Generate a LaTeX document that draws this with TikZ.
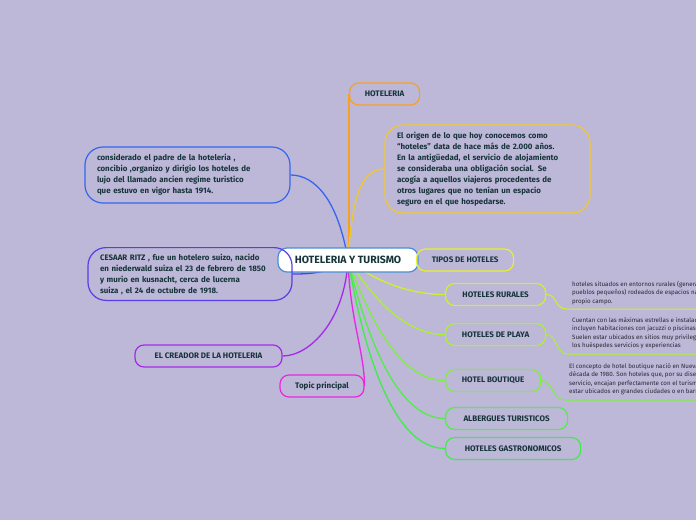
\documentclass[tikz,border=0pt]{standalone}
\usepackage{fontspec}
\setmainfont{Fira Sans}
\usepackage{xcolor}
\usepackage{tikz}
\usetikzlibrary{positioning,calc}
\definecolor{paper}{RGB}{189,183,216}
\definecolor{ink}{RGB}{22,52,58}
\definecolor{noteink}{RGB}{40,40,52}
\definecolor{hubblue}{RGB}{72,142,214}
\definecolor{orange2}{RGB}{246,160,38}
\definecolor{gold2}{RGB}{242,200,40}
\definecolor{blue2}{RGB}{52,102,240}
\definecolor{indigo2}{RGB}{86,62,232}
\definecolor{violet2}{RGB}{164,42,232}
\definecolor{magenta2}{RGB}{232,40,222}
\definecolor{yellow2}{RGB}{232,240,46}
\definecolor{lime1}{RGB}{204,242,44}
\definecolor{lime2}{RGB}{172,242,44}
\definecolor{green1}{RGB}{124,240,60}
\definecolor{green2}{RGB}{84,236,70}
\definecolor{green3}{RGB}{64,236,72}
\pgfdeclarelayer{paperlayer}
\pgfdeclarelayer{links}
\pgfsetlayers{paperlayer,links,main}
\tikzset{
  centerbox/.style={draw=hubblue, fill=white, rounded corners=9pt, line width=1.2pt,
    minimum width=140pt, minimum height=24pt, text=ink,
    font=\bfseries\fontsize{10.5}{12}\selectfont},
  topicbox/.style={draw, rounded corners=9pt, line width=1.2pt,
    minimum height=22pt, text=ink, font=\bfseries\fontsize{8}{9}\selectfont},
  parabox/.style={draw, rounded corners=18pt, line width=1.2pt, align=left,
    inner xsep=12pt, inner ysep=6pt, text=ink,
    font=\bfseries\fontsize{7.9}{11}\selectfont},
  smalltext/.style={anchor=north west, inner sep=0pt, align=left, text=noteink,
    font=\fontsize{6.2}{8.5}\selectfont},
  branch/.style={line width=1.3pt},
  leaf/.style={line width=1pt}
}

\begin{document}
\begin{tikzpicture}[x=1pt, y=-1pt]
\begin{pgfonlayer}{paperlayer}
\fill[paper] (0,0) rectangle (696,520);
\end{pgfonlayer}
\useasboundingbox (0,0) rectangle (696,520);
\clip (0,0) rectangle (696,520);
\coordinate (edge) at (696,0);

% main topic
\node[centerbox] (center) at (348,260) {HOTELERIA Y TURISMO};

% upper side
\node[topicbox, draw=orange2, minimum width=70pt, anchor=west] (hoteleria) at (349,94) {HOTELERIA};
\node[parabox, draw=gold2, text width=181pt, minimum height=88pt] (origen) at (487.5,169)
  {El origen de lo que hoy conocemos como\\
   ``hoteles'' data de hace más de 2.000 años.\\
   En la antigüedad, el servicio de alojamiento\\
   se consideraba una obligación social. Se\\
   acogía a aquellos viajeros procedentes de\\
   otros lugares que no tenían un espacio\\
   seguro en el que hospedarse.};

% left side
\node[parabox, draw=blue2, text width=181pt, minimum height=56pt] (padre) at (187.5,175)
  {considerado el padre de la hoteleria ,\\
   concibio ,organizo y dirigio los hoteles de\\
   lujo del llamado ancien regime turistico\\
   que estuvo en vigor hasta 1914.};
\node[parabox, draw=indigo2, text width=180pt, minimum height=52pt] (ritz) at (190,274)
  {CESAAR RITZ , fue un hotelero suizo, nacido\\
   en niederwald suiza el 23 de febrero de 1850\\
   y murio en kusnacht, cerca de lucerna\\
   suiza , el 24 de octubre de 1918.};
\node[topicbox, draw=violet2, minimum width=147pt] (creador) at (208.5,356) {EL CREADOR DE LA HOTELERIA};
\node[topicbox, draw=magenta2, minimum width=84pt] (topic) at (322,386) {Topic principal};

% tipos de hoteles
\node[topicbox, draw=yellow2, minimum width=97pt, anchor=west] (tipos) at (416,260) {TIPOS DE HOTELES};
\node[topicbox, draw=lime1, minimum width=100pt, anchor=west] (rural) at (445,294.5) {HOTELES RURALES};
\node[topicbox, draw=lime2, minimum width=100pt, anchor=west] (playa) at (445,334.5) {HOTELES DE PLAYA};
\node[topicbox, draw=green1, minimum width=95pt, anchor=west] (boutique) at (445,380.5) {HOTEL BOUTIQUE};
\node[topicbox, draw=green2, minimum width=122pt, anchor=west] (albergue) at (445,418.5) {ALBERGUES TURISTICOS};
\node[topicbox, draw=green3, minimum width=135pt, anchor=west] (gastro) at (445,448.5) {HOTELES GASTRONOMICOS};

% notes
\node[smalltext] (ruralnote) at (572,281)
  {hoteles situados en entornos rurales (generalmente\\
   pueblos pequeños) rodeados de espacios naturales\\
   propio campo.};
\node[smalltext] (playanote) at (572,317)
  {Cuentan con las máximas estrellas e instalaciones\\
   incluyen habitaciones con jacuzzi o piscinas\\
   Suelen estar ubicados en sitios muy privilegiados\\
   los huéspedes servicios y experiencias};
\node[smalltext] (boutiquenote) at (569,363)
  {El concepto de hotel boutique nació en Nueva York\\
   década de 1980. Son hoteles que, por su diseño\\
   servicio, encajan perfectamente con el turismo\\
   estar ubicados en grandes ciudades o en barrios};
\coordinate (ruralline) at (567,309);
\coordinate (playaline) at (568,354);
\coordinate (boutiqueline) at (565,400);

\begin{pgfonlayer}{links}
\draw[branch, orange2] (hoteleria.west |- center) -- (hoteleria.west);
\draw[branch, gold2] (center.center) .. controls (352,200) and (360,169) .. (origen.west);
\draw[branch, blue2] (center.center) .. controls (338,200) and (315,175) .. (padre.east);
\draw[branch, indigo2] (center.center) .. controls (330,274) and (305,274) .. (ritz.east);
\draw[branch, violet2] (center.center) .. controls (345,320) and (310,356) .. (creador.east);
\draw[branch, magenta2] (center.center) .. controls (350,320) and (364,350) .. (topic.east);
\draw[branch, yellow2] (center.center) -- (tipos.west);
\draw[branch, lime1] (center.center) .. controls (380,285) and (415,294.5) .. (rural.west);
\draw[branch, lime2] (center.center) .. controls (375,300) and (405,334.5) .. (playa.west);
\draw[branch, green1] (center.center) .. controls (370,320) and (400,380.5) .. (boutique.west);
\draw[branch, green2] (center.center) .. controls (365,330) and (395,418.5) .. (albergue.west);
\draw[branch, green3] (center.center) .. controls (362,340) and (390,448.5) .. (gastro.west);
% note lines
\draw[leaf, lime1] (rural.east) .. controls (558,294.5) and (554,309) .. (ruralline) -- (ruralline -| edge);
\draw[leaf, lime2] (playa.east) .. controls (558,334.5) and (555,354) .. (playaline) -- (playaline -| edge);
\draw[leaf, green1] (boutique.east) .. controls (553,380.5) and (552,400) .. (boutiqueline) -- (boutiqueline -| edge);
\end{pgfonlayer}
\end{tikzpicture}
\end{document}
